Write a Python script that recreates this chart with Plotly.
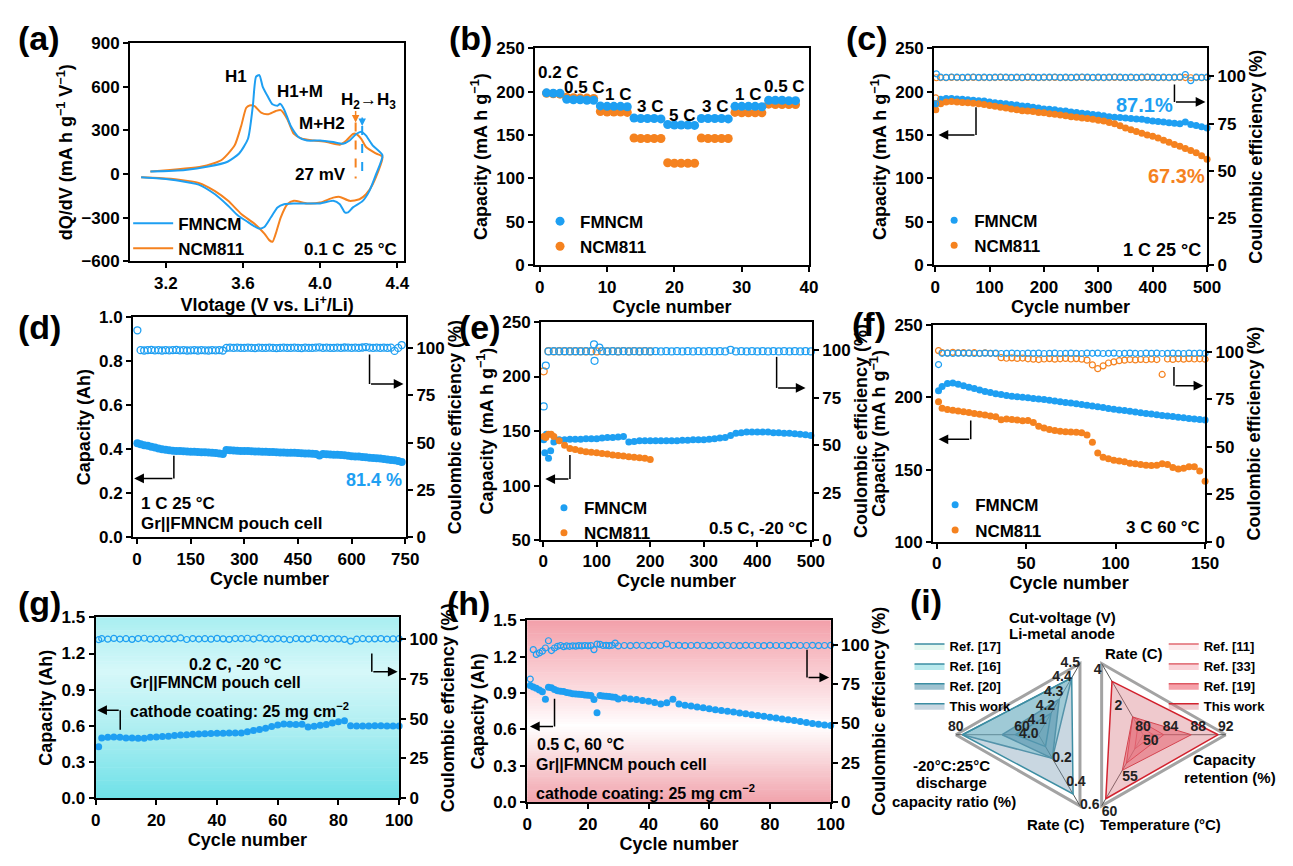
import math
import plotly.graph_objects as go

W, H = 1293, 866
FONT = "Liberation Sans, Arial, sans-serif"
BLUE = "#1e9ff2"
ORANGE = "#f5821f"


def fx(p):
    return p / W


def fy(p):
    return 1 - p / H


# ------------------------------------------------------------------ data
# (a) dQ/dV curves (charge branch then discharge branch)
a_fm_v = [3.12, 3.30, 3.42, 3.52, 3.58, 3.626, 3.651, 3.668, 3.685, 3.702, 3.728, 3.753, 3.779, 3.792,
          3.813, 3.847, 3.889, 3.932, 4.0, 4.068, 4.119, 4.153, 4.187, 4.213, 4.238, 4.272, 4.323,
          4.289, 4.255, 4.221, 4.170, 4.145, 4.128, 4.102, 4.068, 4.0, 3.932, 3.864, 3.813, 3.779,
          3.745, 3.711, 3.685, 3.660, 3.626, 3.574, 3.523, 3.455, 3.370, 3.268, 3.166, 3.072]
a_fm_q = [18, 29, 52, 85, 142, 243, 467, 670, 681, 602, 535, 480, 470, 483,
          445, 333, 254, 231, 231, 220, 209, 231, 276, 292, 265, 198, 130,
          -4, -117, -184, -229, -263, -263, -207, -184, -202, -202, -202, -207, -229,
          -297, -364, -375, -360, -330, -285, -218, -139, -72, -45, -31, -22]
a_nc_v = [3.12, 3.387, 3.489, 3.557, 3.591, 3.617, 3.634, 3.660, 3.694, 3.728, 3.770, 3.796, 3.830,
          3.864, 3.906, 3.966, 4.034, 4.102, 4.136, 4.170, 4.187, 4.213, 4.238, 4.289, 4.323,
          4.272, 4.238, 4.204, 4.153, 4.102, 4.068, 4.0, 3.932, 3.864, 3.830, 3.796, 3.770,
          3.753, 3.736, 3.711, 3.660, 3.591, 3.523, 3.455, 3.370, 3.268, 3.166, 3.072]
a_nc_q = [18, 52, 97, 198, 333, 456, 472, 467, 422, 411, 434, 440, 378,
          276, 243, 231, 220, 202, 231, 276, 276, 243, 186, 142, 119,
          -72, -139, -173, -184, -157, -162, -196, -202, -184, -207, -297, -409,
          -465, -454, -409, -342, -274, -184, -117, -61, -38, -27, -22]

# (b) rate capability
b_cycles = list(range(1, 39))
b_fm_cap = [198.5, 198, 198, 191, 190.5, 190.5, 190, 190, 183.5, 183, 183, 183, 182.5,
            169.5, 169, 169, 169, 168.5, 162, 161.5, 161.5, 161.5, 161, 169, 169, 169, 169, 168.5,
            183, 183, 183, 183, 182.5, 190, 190, 190, 189.5, 189.5]
b_nc_cap = [198, 197.5, 197, 193.5, 193, 192.5, 192.5, 192, 177, 176.5, 176.5, 176.5, 176,
            146.5, 146, 146, 146, 146, 118, 117.5, 117.5, 117.5, 117.5, 146.5, 146, 146, 146, 146,
            176, 175.5, 175.5, 175.5, 175.5, 185.5, 185, 185, 185, 185]
b_rate_labels = ["0.2 C", "0.5 C", "1 C", "3 C", "5 C", "3 C", "1 C", "0.5 C"]
b_label_x = [2.8, 6.7, 11.6, 16.3, 21.2, 26.0, 31.0, 36.4]
b_label_y = [222, 205, 197, 183, 173, 183, 197, 206]

# (c) 1 C 25 C half cell
c_cycles = [1] + list(range(10, 501, 10))
c_fm_cap = [186, 191, 192, 192, 191.5, 191, 190.5, 190, 189.5, 189, 188, 187, 186.5, 186, 185, 184.5,
            183.5, 183, 182, 181, 180, 179.5, 179, 178, 177.5, 176.5, 176, 175, 174.5, 173.5, 173,
            172, 171, 170.5, 170, 169.5, 169, 168.5, 168, 167, 166, 165.5, 165, 164, 163.5, 163, 165,
            162, 161, 159.5, 158]
c_nc_cap = [179, 186, 188, 188.5, 188, 187.5, 187, 186.5, 186, 185, 184, 183, 182, 181, 180, 179, 178,
            177.5, 177, 176, 175.5, 174.5, 174, 173, 172, 171, 170.5, 169.5, 169, 168, 167, 166, 164.5,
            163, 160.5, 158, 156, 154, 152, 150, 148.5, 146.5, 144, 141.5, 139, 137, 134.5, 132, 129.5,
            126, 122]
c_ce_cycles = [1, 2] + list(range(10, 501, 10))
c_fm_ce = [85.5, 101.4,
           99.6, 99.5, 99.7, 99.6, 99.5, 99.6, 99.7, 99.5, 99.6, 99.5,
           99.6, 99.7, 99.6, 99.5, 99.6, 99.5, 99.7, 99.6, 99.5, 99.6,
           99.6, 99.7, 99.5, 99.6, 99.5, 99.6, 99.7, 99.6, 99.5, 99.6,
           99.5, 99.6, 99.7, 99.6, 99.5, 99.6, 99.5, 99.6, 99.7, 99.6,
           99.5, 99.6, 99.5, 99.6, 99.7, 101.0, 97.8, 99.6, 99.5, 99.6]
c_nc_ce = [88.6, 99.3,
           99.4, 99.3, 99.5, 99.4, 99.3, 99.4, 99.5, 99.3, 99.4, 99.3,
           99.4, 99.5, 99.4, 99.3, 99.4, 99.3, 99.5, 99.4, 99.3, 99.4,
           99.4, 99.5, 99.3, 99.4, 99.3, 99.4, 99.5, 99.4, 99.3, 99.4,
           99.3, 99.4, 99.5, 99.4, 99.3, 99.4, 99.3, 99.4, 99.5, 99.4,
           99.3, 99.4, 99.3, 99.4, 99.5, 99.4, 99.3, 99.4, 99.3, 99.4]

# (d) pouch cell 1 C 25 C
d_cycles = [1] + list(range(10, 741, 10))
d_cap = [0.427, 0.422, 0.418, 0.415, 0.411, 0.407, 0.403, 0.400, 0.397, 0.395,
         0.393, 0.392, 0.391, 0.390, 0.389, 0.388, 0.388, 0.387, 0.386, 0.386,
         0.385, 0.384, 0.382, 0.380, 0.378, 0.396, 0.395, 0.394, 0.393, 0.392,
         0.391, 0.391, 0.390, 0.389, 0.389, 0.388, 0.388, 0.387, 0.387, 0.386,
         0.385, 0.385, 0.384, 0.383, 0.383, 0.382, 0.381, 0.380, 0.380, 0.379,
         0.378, 0.371, 0.378, 0.377, 0.376, 0.375, 0.374, 0.373, 0.372, 0.370,
         0.368, 0.367, 0.366, 0.364, 0.363, 0.361, 0.360, 0.358, 0.357, 0.355,
         0.353, 0.351, 0.349, 0.346, 0.342]
d_ce = [109.5, 99.0, 98.8, 99.0, 99.1, 98.9, 99.0, 98.8, 99.0, 98.9,
        99.0, 99.1, 98.9, 99.0, 98.8, 98.9, 99.0, 98.8, 99.0, 98.9,
        98.8, 99.0, 98.9, 99.0, 98.8, 100.2, 100.3, 100.2, 100.3, 100.2,
        100.2, 100.3, 100.2, 100.1, 100.3, 100.2, 100.2, 100.3, 100.2, 100.1,
        100.2, 100.3, 100.2, 100.2, 100.3, 100.2, 100.1, 100.3, 100.2, 100.2,
        100.3, 100.5, 100.2, 100.3, 100.2, 100.2, 100.3, 100.2, 100.4, 100.3,
        100.2, 100.3, 100.2, 100.4, 100.6, 100.3, 100.2, 100.3, 100.2, 100.3,
        100.2, 100.3, 98.6, 100.2, 101.7]

# (e) 0.5 C -20 C
e_fm_cycles = [1, 3, 6, 10, 14, 20] + list(range(30, 501, 10))
e_fm_cap = [142, 130, 147, 125, 132, 140,
            142, 142, 142.5, 142.5, 142.5, 143, 143, 143, 143.5, 144,
            144, 144.5, 145, 140, 140.5, 141, 141, 141, 141, 141,
            141, 141, 141, 141.5, 141.5, 142, 142, 142, 142.5, 143,
            143.5, 144, 146, 148, 148.5, 149, 149, 149, 149, 149,
            148.5, 148.5, 148, 148, 147.5, 147, 146.5, 146]
e_nc_cycles = [1, 5, 10, 15, 20] + list(range(30, 201, 10))
e_nc_cap = [145, 144, 147, 147, 145, 141, 137, 134, 133, 132, 131, 130.5, 130, 129.5, 129, 128,
            127.5, 127, 126.5, 126, 125.5, 125, 124]
e_fm_ce_cycles = [1, 5, 10, 20, 30, 40, 50, 60, 70, 80, 90, 95, 96, 105] + list(range(110, 501, 10))
e_fm_ce = [70.5, 92.0, 99.5, 99.6, 99.5, 99.6, 99.5, 99.6, 99.5, 99.6, 99.5, 103.2, 94.5, 101.5,
           99.6, 99.5, 99.6, 99.5, 99.6, 99.5, 99.6, 99.5, 99.6, 99.5,
           99.6, 99.5, 99.6, 99.5, 99.6, 99.5, 99.6, 99.5, 99.6, 99.5,
           99.6, 99.5, 99.6, 99.5, 100.3, 99.5, 99.6, 99.5, 99.6, 99.5,
           99.6, 99.5, 99.6, 99.5, 99.6, 99.5, 99.6, 99.5, 99.6, 99.5]
e_nc_ce_cycles = [1] + list(range(10, 201, 10))
e_nc_ce = [89.0, 99.6, 99.5, 99.6, 99.5, 99.6, 99.5, 99.6, 99.5, 99.6, 99.5,
           99.6, 99.5, 99.6, 99.5, 99.6, 99.5, 99.6, 99.5, 99.6, 99.5]

# (f) 3 C 60 C
f_cycles = [1] + list(range(3, 151, 3))
f_fm_cap = [204.5, 207.5, 209.5, 209.8, 209, 208, 207, 206, 205, 204, 203.3,
            202.5, 202, 201.3, 200.8, 200.3, 200, 199.6, 199.2, 198.8, 198.4,
            197.9, 197.4, 196.9, 196.4, 196, 195.5, 195, 194.5, 194, 193.4,
            192.9, 192.3, 191.8, 191.3, 190.8, 190.3, 189.8, 189.3, 188.8, 188.4,
            188, 187.5, 187.1, 186.7, 186.2, 185.8, 185.4, 185, 184.6, 184.3]
f_nc_cap = [197, 192.5, 191.5, 191, 190.5, 190, 189.5, 188.8, 188.2, 187.7, 187,
            186.5, 184.5, 185, 184.6, 184.3, 183.8, 184, 182.5, 180, 178.7,
            177.8, 177, 176.5, 176.2, 176, 175.8, 175.5, 174, 169, 161.5,
            158.5, 157.5, 156.5, 156, 155.5, 154.5, 154, 153.5, 153, 152.8,
            153, 154, 153.5, 151.5, 150.5, 151, 152, 152, 149, 142]
f_fm_ce = [93.2, 99.1, 99.2, 99.0, 99.2, 99.1, 99.2, 99.0, 99.1, 99.2, 99.1,
           99.2, 99.0, 99.1, 99.2, 99.1, 99.0, 99.2, 99.1, 99.2, 99.0,
           99.1, 99.2, 99.0, 99.1, 99.2, 99.1, 99.0, 99.2, 99.1, 99.2,
           99.0, 99.1, 99.2, 99.0, 99.1, 99.2, 99.1, 99.0, 99.2, 99.1,
           99.2, 99.0, 99.1, 99.2, 99.1, 99.0, 99.2, 99.1, 99.2, 99.1]
f_nc_ce = [100.5, 99.5, 99.2, 99.6, 99.3, 99.5, 99.2, 99.4, 99.0, 99.3, 99.1,
           99.0, 96.8, 96.5, 96.7, 96.4, 96.6, 96.2, 96.0, 95.8, 96.1,
           96.3, 96.0, 96.2, 96.4, 96.1, 96.3, 96.0, 95.5, 93.0, 91.0,
           92.5, 94.0, 94.6, 95.2, 95.5, 95.8, 95.6, 95.9, 95.7, 96.0,
           95.8, 88.0, 96.1, 95.9, 96.2, 96.0, 96.3, 96.1, 96.2, 96.0]

# (g) pouch cell 0.2 C -20 C
g_cycles = [1] + list(range(2, 101, 2))
g_cap = [0.427, 0.50, 0.505, 0.508, 0.505, 0.50, 0.50, 0.498, 0.497, 0.505, 0.508,
         0.512, 0.515, 0.52, 0.525, 0.527, 0.53, 0.533, 0.535, 0.538, 0.54,
         0.54, 0.541, 0.541, 0.542, 0.552, 0.562, 0.57, 0.58, 0.595, 0.607,
         0.615, 0.613, 0.612, 0.614, 0.59, 0.598, 0.605, 0.612, 0.625, 0.635,
         0.643, 0.602, 0.6, 0.6, 0.6, 0.601, 0.601, 0.6, 0.6, 0.6]
g_ce = [99.5, 100.2, 99.8, 100.3, 99.9, 100.1, 99.7, 100.2, 100.4, 99.8, 100.1,
        99.9, 100.3, 100.0, 100.6, 99.6, 100.2, 99.9, 100.1, 99.8, 100.3,
        100.0, 99.7, 100.2, 100.1, 100.4, 99.9, 100.6, 100.0, 99.8, 100.2,
        99.9, 99.5, 100.2, 100.0, 99.8, 100.5, 100.1, 99.9, 100.2, 100.0,
        99.7, 98.6, 99.8, 100.1, 99.9, 100.0, 100.2, 99.9, 100.0, 100.1]

# (h) pouch cell 0.5 C 60 C
h_cycles = list(range(1, 31)) + list(range(32, 101, 2))
h_cap = [0.962, 0.950, 0.940, 0.926, 0.910, 0.848, 0.948, 0.943, 0.930, 0.918,
         0.915, 0.912, 0.905, 0.900, 0.895, 0.892, 0.890, 0.888, 0.885, 0.882,
         0.880, 0.846, 0.738, 0.880, 0.876, 0.874, 0.871, 0.868, 0.866, 0.850,
         0.860, 0.852, 0.846, 0.838, 0.832, 0.822, 0.810, 0.820, 0.848, 0.810,
         0.800, 0.793, 0.786, 0.778, 0.770, 0.763, 0.757, 0.750, 0.743, 0.736,
         0.729, 0.722, 0.715, 0.708, 0.701, 0.694, 0.687, 0.680, 0.673, 0.666,
         0.658, 0.650, 0.642, 0.636, 0.632]
h_ce = [78.2, 96.9, 93.8, 94.8, 95.9, 97.9, 102.5, 96.3, 97.9, 99.0,
        99.5, 98.8, 99.2, 99.0, 99.3, 99.1, 99.4, 99.2, 99.5, 99.3,
        99.4, 96.9, 100.4, 100.2, 99.5, 99.6, 99.4, 99.6, 101.0, 99.2,
        99.5, 99.4, 99.6, 99.5, 99.4, 99.6, 99.5, 100.5, 99.5, 99.6,
        99.4, 99.5, 99.6, 99.5, 99.4, 99.5, 99.6, 99.5, 99.5, 99.4,
        99.6, 99.5, 99.5, 99.4, 99.6, 99.5, 99.5, 99.4, 99.6, 99.5,
        99.5, 99.6, 99.4, 99.5, 99.6]

# (i) radar charts
rl_names = ["Ref. [17]", "Ref. [16]", "Ref. [20]", "This work"]
rl_voltage = [4.15, 4.40, 4.25, 4.40]
rl_ratio = [62, 78, 66, 78]
rl_rate = [0.10, 0.20, 0.20, 0.50]
rl_fill = ["rgba(170,230,205,0.30)", "rgba(80,200,210,0.40)", "rgba(40,120,150,0.45)",
           "rgba(120,155,180,0.40)"]
rl_vticks = [4.0, 4.1, 4.2, 4.3, 4.4, 4.5]
rl_ratioticks = [60, 80]
rl_rateticks = [0.2, 0.4, 0.6]

rr_names = ["Ref. [11]", "Ref. [33]", "Ref. [19]", "This work"]
rr_retention = [81.5, 83.0, 87.0, 90.9]
rr_rate = [0.5, 1.0, 1.0, 3.0]
rr_temp = [52, 54, 55, 59]
rr_fill = ["rgba(250,205,210,0.40)", "rgba(245,160,170,0.45)", "rgba(235,70,85,0.50)",
           "rgba(215,120,130,0.40)"]
rr_retticks = [80, 84, 88, 92]
rr_rateticks = [2, 4]
rr_tempticks = [50, 55, 60]

# ------------------------------------------------------------------ figure
fig = go.Figure()
RANK = {"FMNCM": 1, "NCM811": 2}


def cap(x, y, xa, ya, color, size, name=None, legend=None):
    fig.add_trace(go.Scatter(x=x, y=y, xaxis=xa, yaxis=ya, mode="markers",
                             marker=dict(size=size, color=color, line=dict(width=0)),
                             name=name, showlegend=legend is not None,
                             legendrank=RANK.get(name, 1000),
                             legend=legend if legend else "legend", cliponaxis=False))


def ce(x, y, xa, ya, color, size=6, lw=1.2):
    fig.add_trace(go.Scatter(x=x, y=y, xaxis=xa, yaxis=ya, mode="markers",
                             marker=dict(symbol="circle-open", size=size, color=color,
                                         line=dict(width=lw, color=color)),
                             showlegend=False, cliponaxis=False))


# (a)
fig.add_trace(go.Scatter(x=a_nc_v, y=a_nc_q, xaxis="x", yaxis="y", mode="lines",
                         line=dict(color=ORANGE, width=2, shape="spline", smoothing=0.6),
                         name="NCM811", legend="legend", legendrank=2))
fig.add_trace(go.Scatter(x=a_fm_v, y=a_fm_q, xaxis="x", yaxis="y", mode="lines",
                         line=dict(color=BLUE, width=2, shape="spline", smoothing=0.6),
                         name="FMNCM", legend="legend", legendrank=1))

# (b)
cap(b_cycles, b_nc_cap, "x2", "y2", ORANGE, 9, "NCM811", "legend2")
cap(b_cycles, b_fm_cap, "x2", "y2", BLUE, 9, "FMNCM", "legend2")

# (c)
ce(c_ce_cycles, c_nc_ce, "x3", "y4", ORANGE, 6)
ce(c_ce_cycles, c_fm_ce, "x3", "y4", BLUE, 6)
cap(c_cycles, c_fm_cap, "x3", "y3", BLUE, 7, "FMNCM", "legend3")
cap(c_cycles, c_nc_cap, "x3", "y3", ORANGE, 7, "NCM811", "legend3")

# (d)
ce(d_cycles, d_ce, "x4", "y6", BLUE, 7, 1.3)
cap(d_cycles, d_cap, "x4", "y5", BLUE, 8)

# (e)
ce(e_nc_ce_cycles, e_nc_ce, "x5", "y8", ORANGE, 7)
ce(e_fm_ce_cycles, e_fm_ce, "x5", "y8", BLUE, 7)
cap(e_fm_cycles, e_fm_cap, "x5", "y7", BLUE, 7, "FMNCM", "legend4")
cap(e_nc_cycles, e_nc_cap, "x5", "y7", ORANGE, 7, "NCM811", "legend4")

# (f)
ce(f_cycles, f_nc_ce, "x6", "y10", ORANGE, 6)
ce(f_cycles, f_fm_ce, "x6", "y10", BLUE, 6)
cap(f_cycles, f_fm_cap, "x6", "y9", BLUE, 7, "FMNCM", "legend5")
cap(f_cycles, f_nc_cap, "x6", "y9", ORANGE, 7, "NCM811", "legend5")

# (g)
ce(g_cycles, g_ce, "x7", "y12", BLUE, 6)
cap(g_cycles, g_cap, "x7", "y11", BLUE, 7)

# (h)
ce(h_cycles, h_ce, "x8", "y14", BLUE, 6)
cap(h_cycles, h_cap, "x8", "y13", BLUE, 7)


# (i) radars drawn on a hidden 1:1 pixel-scaled cartesian subplot (x9 / y15)
def norm(v, lo, hi):
    return (v - lo) / (hi - lo)


class Radar:
    def __init__(self, cx, cy, R, angles):
        self.cx, self.cy, self.R, self.angles = cx, cy, R, angles

    def pt(self, axis, r):
        a = math.radians(self.angles[axis])
        return self.cx + self.R * r * math.cos(a), self.cy - self.R * r * math.sin(a)


def rtrace(xs, ys, **kw):
    fig.add_trace(go.Scatter(x=xs, y=ys, xaxis="x9", yaxis="y15", cliponaxis=False, **kw))


def radar_frame(rd, order):
    pts = [rd.pt(k, 1.0) for k in order] + [rd.pt(order[0], 1.0)]
    rtrace([p[0] for p in pts], [p[1] for p in pts], mode="lines", fill="toself", fillcolor="white",
           line=dict(color="#a3a3a3", width=3), showlegend=False, hoverinfo="skip")
    for k in order:
        p = rd.pt(k, 1.0)
        rtrace([rd.cx, p[0]], [rd.cy, p[1]], mode="lines", line=dict(color="#555555", width=1),
               showlegend=False, hoverinfo="skip")


def radar_ticks(rd, axis, vals, rng, fmt, pos):
    pts = [rd.pt(axis, norm(v, *rng)) for v in vals]
    rtrace([p[0] for p in pts], [p[1] for p in pts], mode="text", text=[fmt.format(v) for v in vals],
           textposition=pos, textfont=dict(size=14, color="#222"), showlegend=False, hoverinfo="skip")


RL = Radar(1049, 742, 84, dict(ratio=180, V=60, rate=-60))
L_RANGE = dict(V=(4.0, 4.5), ratio=(55, 80), rate=(0.0, 0.6))
radar_frame(RL, ["ratio", "V", "rate"])
for i, nm in enumerate(rl_names):
    vals = dict(ratio=rl_ratio[i], V=rl_voltage[i], rate=rl_rate[i])
    pts = [RL.pt(k, norm(vals[k], *L_RANGE[k])) for k in ["ratio", "V", "rate", "ratio"]]
    rtrace([p[0] for p in pts], [p[1] for p in pts], mode="lines", fill="toself", fillcolor=rl_fill[i],
           line=dict(color="#3d8ea3", width=1.5), name=nm, legend="legend6")
radar_ticks(RL, "V", rl_vticks, L_RANGE["V"], "{:.1f}", "middle left")
radar_ticks(RL, "ratio", rl_ratioticks, L_RANGE["ratio"], "{}", "top center")
radar_ticks(RL, "rate", rl_rateticks, L_RANGE["rate"], "{:.1f}", "middle right")

RR = Radar(1155, 742, 84, dict(ret=0, rate=120, temp=240))
R_RANGE = dict(ret=(80, 92), rate=(0, 4), temp=(50, 60))
radar_frame(RR, ["ret", "rate", "temp"])
for i, nm in enumerate(rr_names):
    vals = dict(ret=rr_retention[i], rate=rr_rate[i], temp=rr_temp[i])
    pts = [RR.pt(k, norm(vals[k], *R_RANGE[k])) for k in ["ret", "rate", "temp", "ret"]]
    rtrace([p[0] for p in pts], [p[1] for p in pts], mode="lines", fill="toself", fillcolor=rr_fill[i],
           line=dict(color="#d2232f", width=1.5 if i == 3 else 1), name=nm, legend="legend7")
radar_ticks(RR, "ret", rr_retticks, R_RANGE["ret"], "{}", "top center")
radar_ticks(RR, "rate", rr_rateticks, R_RANGE["rate"], "{}", "bottom left")
radar_ticks(RR, "temp", rr_tempticks, R_RANGE["temp"], "{}", "bottom right")


# ------------------------------------------------------------------ axes
def ax(title, rng, **kw):
    d = dict(showline=True, linecolor="black", linewidth=2, ticks="outside", ticklen=5, tickwidth=2,
             tickcolor="black", showgrid=False, zeroline=False, range=rng,
             tickfont=dict(size=17), title=dict(text=title, font=dict(size=18), standoff=4))
    d.update(kw)
    return d


CAP_G = "Capacity (mA h g<sup>−1</sup>)"
CE_T = "Coulombic efficiency (%)"
CE_T2 = "Coulombic effciency (%)"
CYC = "Cycle number"
CE_TICKS = [0, 25, 50, 75, 100]

layout_axes = dict(
    xaxis=ax("Vlotage (V vs. Li<sup>+</sup>/Li)", [3.015, 4.435], domain=[fx(127), fx(405)], anchor="y",
             tickvals=[3.2, 3.6, 4.0, 4.4], tickformat=".1f", mirror=True),
    yaxis=ax("dQ/dV (mA h g<sup>−1</sup> V<sup>−1</sup>)", [-600, 900], domain=[fy(258), fy(35)], anchor="x",
             dtick=300, mirror=True),
    xaxis2=ax(CYC, [-0.7, 40], domain=[fx(538), fx(816)], anchor="y2", dtick=10, mirror=True),
    yaxis2=ax(CAP_G, [0, 250], domain=[fy(262), fy(40)], anchor="x2", dtick=50, mirror=True),
    xaxis3=ax(CYC, [-2, 500], domain=[fx(943), fx(1220)], anchor="y3", dtick=100, mirror=True),
    yaxis3=ax(CAP_G, [0, 250], domain=[fy(262), fy(40)], anchor="x3", dtick=50),
    yaxis4=ax(CE_T, [0, 115], overlaying="y3", side="right", anchor="x3", tickvals=CE_TICKS),
    xaxis4=ax(CYC, [-11, 752], domain=[fx(130), fx(407)], anchor="y5", dtick=150, mirror=True),
    yaxis5=ax("Capacity (Ah)", [0, 1], domain=[fy(540), fy(315)], anchor="x4", dtick=0.2, tickformat=".1f"),
    yaxis6=ax(CE_T, [0, 116.5], overlaying="y5", side="right", anchor="x4", tickvals=CE_TICKS),
    xaxis5=ax(CYC, [-4, 502], domain=[fx(544), fx(819)], anchor="y7", dtick=100, mirror=True),
    yaxis7=ax(CAP_G, [50, 250], domain=[fy(543), fy(320)], anchor="x5", dtick=50),
    yaxis8=ax(CE_T, [0, 115], overlaying="y7", side="right", anchor="x5", tickvals=CE_TICKS),
    xaxis6=ax(CYC, [-2, 150], domain=[fx(942), fx(1218)], anchor="y9", dtick=50, mirror=True),
    yaxis9=ax(CAP_G, [100, 250], domain=[fy(545), fy(323)], anchor="x6", dtick=50),
    yaxis10=ax(CE_T, [0, 114], overlaying="y9", side="right", anchor="x6", tickvals=CE_TICKS),
    xaxis7=ax(CYC, [0, 100], domain=[fx(92), fx(400)], anchor="y11", dtick=20, mirror=True),
    yaxis11=ax("Capacity (Ah)", [0, 1.5], domain=[fy(807), fy(622)], anchor="x7", dtick=0.3, tickformat=".1f"),
    yaxis12=ax(CE_T2, [0, 113.5], overlaying="y11", side="right", anchor="x7", tickvals=CE_TICKS),
    xaxis8=ax(CYC, [0, 100], domain=[fx(530), fx(838)], anchor="y13", dtick=20, mirror=True),
    yaxis13=ax("Capacity (Ah)", [0, 1.5], domain=[fy(811), fy(625)], anchor="x8", dtick=0.3, tickformat=".1f"),
    yaxis14=ax(CE_T2, [0, 115.5], overlaying="y13", side="right", anchor="x8", tickvals=CE_TICKS),
    # pixel-scaled hidden axes for the radar panel (i)
    xaxis9=dict(domain=[fx(900), fx(1293)], range=[900, 1293], visible=False, anchor="y15",
                fixedrange=True),
    yaxis15=dict(domain=[fy(866), fy(600)], range=[866, 600], visible=False, anchor="x9",
                 fixedrange=True),
)

# ------------------------------------------------------------------ annotations & shapes
ann = []
shapes = []


def txt(x, y, s, xr, yr, size=17, color="black", xanchor="center", yanchor="middle"):
    ann.append(dict(x=x, y=y, text=s, xref=xr, yref=yr, showarrow=False, xanchor=xanchor,
                    yanchor=yanchor, font=dict(size=size, color=color)))


for lab, px, py in [("(a)", 35, 30), ("(b)", 472, 30), ("(c)", 875, 30), ("(d)", 35, 325),
                    ("(e)", 482, 325), ("(f)", 877, 322), ("(g)", 35, 607), ("(h)", 470, 607),
                    ("(i)", 935, 605)]:
    txt(fx(px), fy(py), lab, "paper", "paper", size=34)

# (a) labels
txt(3.566, 670, "H1", "x", "y")
txt(3.898, 569, "H1+M", "x", "y")
txt(4.009, 351, "M+H2", "x", "y")
txt(4.25, 501, "H<sub>2</sub>→H<sub>3</sub>", "x", "y")
txt(4.145, 0, "27 mV", "x", "y", xanchor="right")
txt(4.41, -517, "0.1 C  25 °C", "x", "y", xanchor="right")
a_peak_nc, a_peak_fm = 4.184, 4.218
shapes.append(dict(type="line", xref="x", yref="y", x0=a_peak_nc, x1=a_peak_nc, y0=355, y1=-30,
                   line=dict(color=ORANGE, width=2, dash="dash")))
shapes.append(dict(type="line", xref="x", yref="y", x0=a_peak_fm, x1=a_peak_fm, y0=330, y1=-30,
                   line=dict(color=BLUE, width=2, dash="dash")))
for xv, y0, y1, col in [(a_peak_nc, 445, 355, ORANGE), (a_peak_fm, 400, 330, BLUE)]:
    ann.append(dict(x=xv, y=y1, ax=xv, ay=y0, xref="x", yref="y", axref="x", ayref="y", text="",
                    showarrow=True, arrowhead=2, arrowsize=1, arrowwidth=1.5, arrowcolor=col))

# (b) labels
for s, xv, yv in zip(b_rate_labels, b_label_x, b_label_y):
    txt(xv, yv, s, "x2", "y2", size=17)

# (c)
txt(385, 184, "87.1%", "x3", "y3", size=20, color=BLUE)
txt(443, 103, "67.3%", "x3", "y3", size=20, color=ORANGE)
txt(492, 17, "1 C 25 °C", "x3", "y3", size=18, xanchor="right")
# (d)
txt(745, 0.26, "81.4 %", "x4", "y5", size=18, color=BLUE, xanchor="right")
txt(5, 0.152, "1 C 25 °C", "x4", "y5", size=17, xanchor="left")
txt(5, 0.062, "Gr||FMNCM pouch cell", "x4", "y5", size=17, xanchor="left")
# (e)
txt(497, 61, "0.5 C, -20 °C", "x5", "y7", size=17, xanchor="right")
# (f)
txt(148, 110, "3 C 60 °C", "x6", "y9", size=17, xanchor="right")
# (g)
txt(46, 1.108, "0.2 C, -20 °C", "x7", "y11", size=16)
txt(10.8, 0.96, "Gr||FMNCM pouch cell", "x7", "y11", size=16, xanchor="left")
txt(10.8, 0.735, "cathode coating: 25 mg cm<sup>−2</sup>", "x7", "y11", size=16, xanchor="left")
# (h)
txt(2.7, 0.477, "0.5 C, 60 °C", "x8", "y13", size=16, xanchor="left")
txt(2.4, 0.307, "Gr||FMNCM pouch cell", "x8", "y13", size=16, xanchor="left")
txt(2.4, 0.086, "cathode coating: 25 mg cm<sup>−2</sup>", "x8", "y13", size=16, xanchor="left")

# brackets (vertical stroke then arrow to the axis)
brackets = [
    ("x3", "y3", 75, 182, 150, 6), ("x3", "y3", 440, 208, 188, 497),
    ("x4", "y5", 103, 0.37, 0.267, -8), ("x4", "y5", 650, 0.83, 0.696, 745),
    ("x5", "y7", 50, 128, 106, 4), ("x5", "y7", 436, 218, 189.5, 490),
    ("x6", "y9", 19, 184, 171, 1), ("x6", "y9", 132.6, 221, 208, 149),
    ("x7", "y11", 8.1, 0.568, 0.73, 0.5), ("x7", "y11", 91, 1.2, 1.05, 99.5),
    ("x8", "y13", 9, 0.854, 0.625, 0.9), ("x8", "y13", 92.2, 1.258, 1.029, 99.5),
]
for xr, yr, xv, yf, yc, xt in brackets:
    shapes.append(dict(type="line", xref=xr, yref=yr, x0=xv, x1=xv, y0=yf, y1=yc,
                       line=dict(color="black", width=1.5)))
    ann.append(dict(x=xt, y=yc, ax=xv, ay=yc, xref=xr, yref=yr, axref=xr, ayref=yr, text="",
                    showarrow=True, arrowhead=2, arrowsize=1.3, arrowwidth=1.5, arrowcolor="black"))


# gradient backgrounds for (g) and (h)
def hex2rgb(h):
    h = h.lstrip("#")
    return [int(h[i:i + 2], 16) for i in (0, 2, 4)]


def interp(stops, t):
    for (t0, c0), (t1, c1) in zip(stops[:-1], stops[1:]):
        if t0 <= t <= t1:
            f = (t - t0) / (t1 - t0) if t1 > t0 else 0
            a, b = hex2rgb(c0), hex2rgb(c1)
            return "rgb(%d,%d,%d)" % tuple(round(a[k] + (b[k] - a[k]) * f) for k in range(3))
    return stops[-1][1]


def gradient(xr, yr, stops, n=70):
    for i in range(n):
        t = (i + 0.5) / n
        shapes.append(dict(type="rect", xref=xr + " domain", yref=yr + " domain", x0=0, x1=1,
                           y0=1 - (i + 1) / n - 0.003, y1=1 - i / n, layer="below",
                           fillcolor=interp(stops, t), line=dict(width=0)))


gradient("x7", "y11", [(0, "#a9eef1"), (0.3, "#d6f8f9"), (0.6, "#b0eff2"), (1, "#6fe1e8")])
gradient("x8", "y13", [(0, "#f3a0aa"), (0.45, "#fde6e9"), (0.58, "#ffffff"), (1, "#f1a3ac")])

# radar axis names
for s, px, py in [("Cut-voltage (V)", 1073, 622), ("Li-metal anode", 1073, 639),
                  ("-20°C:25°C", 961, 773), ("discharge", 961, 791), ("capacity ratio (%)", 963, 810),
                  ("Rate (C)", 1067, 834), ("Rate (C)", 1146, 659), ("Capacity", 1238, 767),
                  ("retention (%)", 1243, 786), ("Temperature (°C)", 1173, 834)]:
    txt(fx(px), fy(py), s, "paper", "paper", size=15)

leg_common = dict(bgcolor="rgba(0,0,0,0)", xanchor="left", yanchor="top", font=dict(size=17),
                  tracegroupgap=0)
leg_radar = dict(bgcolor="rgba(0,0,0,0)", xanchor="left", yanchor="top", font=dict(size=13),
                 tracegroupgap=0)

fig.update_layout(
    width=W, height=H, margin=dict(l=0, r=0, t=0, b=0),
    paper_bgcolor="white", plot_bgcolor="white",
    font=dict(family=FONT, size=16, color="black", weight="bold"),
    legend=dict(x=fx(125), y=fy(201), itemwidth=40, **leg_common),
    legend2=dict(x=fx(543), y=fy(199), **leg_common),
    legend3=dict(x=fx(943), y=fy(198), **leg_common),
    legend4=dict(x=fx(547), y=fy(492), **leg_common),
    legend5=dict(x=fx(944), y=fy(489), **leg_common),
    legend6=dict(x=fx(918), y=fy(636), **leg_radar),
    legend7=dict(x=fx(1176), y=fy(636), **leg_radar),
    annotations=ann, shapes=shapes,
    **layout_axes,
)

fig.write_html("out.html")
